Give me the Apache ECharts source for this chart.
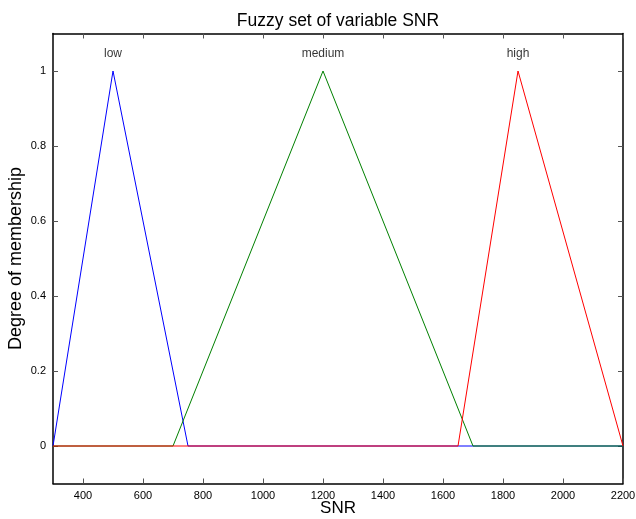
<!DOCTYPE html>
<html>
<head>
<meta charset="utf-8">
<script src="https://cdn.jsdelivr.net/npm/echarts@6/dist/echarts.min.js"></script>
<style>
html,body{margin:0;padding:0;background:#fff;}
#chart{width:636px;height:519px;}
</style>
</head>
<body>
<div id="chart"></div>
<script>
// Membership functions of the linguistic variable SNR (vertices of each triangle, padded with zeros)
const lowSet = [[300, 0], [500, 1], [750, 0], [2200, 0]];
const mediumSet = [[300, 0], [700, 0], [1200, 1], [1700, 0], [2200, 0]];
const highSet = [[300, 0], [1650, 0], [1850, 1], [2200, 0]];

const setNames = ['low', 'medium', 'high'];
const setPeaks = [500, 1200, 1850];
const labelLevel = 1.047;
const setColors = ['#0000ff', '#008000', '#ff0000'];

const xTicks = [400, 600, 800, 1000, 1200, 1400, 1600, 1800, 2000, 2200];
const yTicks = [0, 0.2, 0.4, 0.6, 0.8, 1];

const FONT = 'Liberation Sans, Arial, Helvetica, sans-serif';
const NARROW = 'Liberation Sans Narrow, Arial Narrow, Liberation Sans, sans-serif';

const tickStyle = { color: '#555', width: 1 };
const frameLine = { show: true, onZero: false, lineStyle: { color: '#000', width: 1.5 } };

const chart = echarts.init(document.getElementById('chart'), null, { renderer: 'canvas' });

const lineSeries = [lowSet, mediumSet, highSet].map((d, i) => ({
  type: 'line',
  name: setNames[i],
  data: d,
  symbol: 'none',
  lineStyle: { color: setColors[i], width: 1 },
  z: 2 + i
}));

// Name of each fuzzy set, written above its peak
const nameSeries = {
  type: 'scatter',
  data: setNames.map((n, i) => [setPeaks[i], labelLevel, n]),
  symbolSize: 0,
  silent: true,
  z: 10,
  label: {
    show: true,
    position: 'inside',
    formatter: p => p.data[2],
    color: '#000',
    fontSize: 12,
    fontFamily: FONT
  }
};

chart.setOption({
  backgroundColor: '#fff',
  animation: false,
  title: {
    text: 'Fuzzy set of variable SNR',
    left: 333,
    textAlign: 'center',
    top: 7,
    textStyle: { fontSize: 17.5, fontWeight: 'normal', color: '#000', fontFamily: FONT }
  },
  // half-pixel offsets keep the zero level of the curves on a pixel row
  grid: { left: 53, right: 13, top: 33.5, bottom: 35.5, containLabel: false, outerBoundsMode: 'none' },
  xAxis: [
    {
      type: 'value',
      min: 300, max: 2200, position: 'bottom',
      name: 'SNR',
      nameLocation: 'middle',
      nameGap: 16,
      nameMoveOverlap: false,
      nameTextStyle: { fontSize: 17, color: '#000', fontFamily: FONT },
      splitLine: { show: false },
      axisLine: frameLine,
      axisTick: { show: true, inside: true, length: 5, customValues: xTicks, lineStyle: tickStyle },
      axisLabel: { customValues: xTicks, formatter: v => String(v), color: '#000', fontSize: 11, fontFamily: NARROW, margin: 7 }
    },
    {
      type: 'value',
      min: 300, max: 2200, position: 'top',
      splitLine: { show: false },
      axisLine: frameLine,
      axisTick: { show: true, inside: true, length: 5, customValues: xTicks, lineStyle: tickStyle },
      axisLabel: { show: false }
    }
  ],
  yAxis: [
    {
      type: 'value',
      min: -0.1, max: 1.1, position: 'left',
      name: 'Degree of membership',
      nameLocation: 'middle',
      nameGap: 28,
      nameMoveOverlap: false,
      nameTextStyle: { fontSize: 18, color: '#000', fontFamily: FONT },
      splitLine: { show: false },
      axisLine: frameLine,
      axisTick: { show: true, inside: true, length: 5, customValues: yTicks, lineStyle: tickStyle },
      axisLabel: { customValues: yTicks, formatter: v => String(v), color: '#000', fontSize: 11, fontFamily: FONT, margin: 7 }
    },
    {
      type: 'value',
      min: -0.1, max: 1.1, position: 'right',
      splitLine: { show: false },
      axisLine: frameLine,
      axisTick: { show: true, inside: true, length: 5, customValues: yTicks, lineStyle: tickStyle },
      axisLabel: { show: false }
    }
  ],
  series: lineSeries.concat([nameSeries])
});
</script>
</body>
</html>
